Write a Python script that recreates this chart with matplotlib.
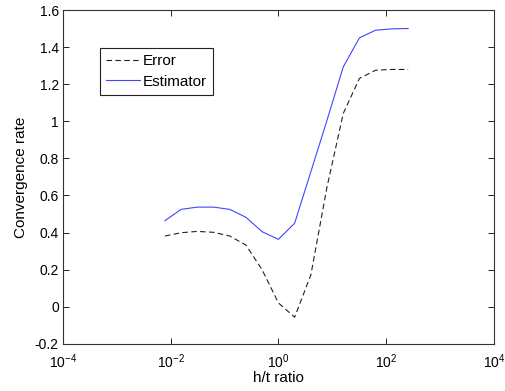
import matplotlib
matplotlib.use("Agg")
import matplotlib.pyplot as plt
from matplotlib.ticker import FormatStrFormatter, NullLocator

plt.rcParams['font.family'] = ['Liberation Sans', 'DejaVu Sans']
plt.rcParams['mathtext.default'] = 'regular'

# h/t ratios, powers of two from 2^-7 to 2^8
ratio = [2.0 ** k for k in range(-7, 9)]
error_rate = [0.381, 0.399, 0.406, 0.401, 0.381, 0.332, 0.198, 0.02,
              -0.057, 0.171, 0.647, 1.043, 1.232, 1.276, 1.28, 1.28]
estimator_rate = [0.464, 0.525, 0.537, 0.537, 0.525, 0.482, 0.404, 0.363,
                  0.450, 0.728, 1.007, 1.294, 1.451, 1.492, 1.499, 1.501]
xticks = [1e-4, 1e-2, 1, 1e2, 1e4]
yticks = [-0.2, 0, 0.2, 0.4, 0.6, 0.8, 1, 1.2, 1.4, 1.6]

fig = plt.figure(figsize=(5.06, 3.91), dpi=100)
ax = fig.add_axes([0.1245, 0.121, 0.8515, 0.853])

ax.plot(ratio, error_rate, '--', color='#222222', lw=0.8, dashes=(5, 3), label='Error')
ax.plot(ratio, estimator_rate, '-', color='#4444ff', lw=0.8, label='Estimator')

ax.set_xscale('log')
ax.set_xlim(1e-4, 1e4)
ax.set_ylim(-0.2, 1.6)
ax.set_xticks(xticks)
ax.xaxis.set_minor_locator(NullLocator())
ax.set_yticks(yticks)
ax.yaxis.set_major_formatter(FormatStrFormatter('%g'))

ax.tick_params(direction='in', top=True, right=True, length=4, width=0.6,
               labelsize=10, pad=3)
ax.tick_params(axis='x', pad=6)
for s in ax.spines.values():
    s.set_linewidth(0.8)
    s.set_color('#333333')

ax.set_xlabel('h/t ratio', fontsize=11, labelpad=0)
ax.set_ylabel('Convergence rate', fontsize=11, labelpad=5)

leg = ax.legend(loc='upper left', bbox_to_anchor=(0.086, 0.887), borderaxespad=0,
                fancybox=False, framealpha=1, edgecolor='#222222', fontsize=11,
                handlelength=2.2, handletextpad=0.2, borderpad=0.4, labelspacing=0.45)
leg.get_frame().set_linewidth(0.8)

fig.savefig('out.png', dpi=100)
